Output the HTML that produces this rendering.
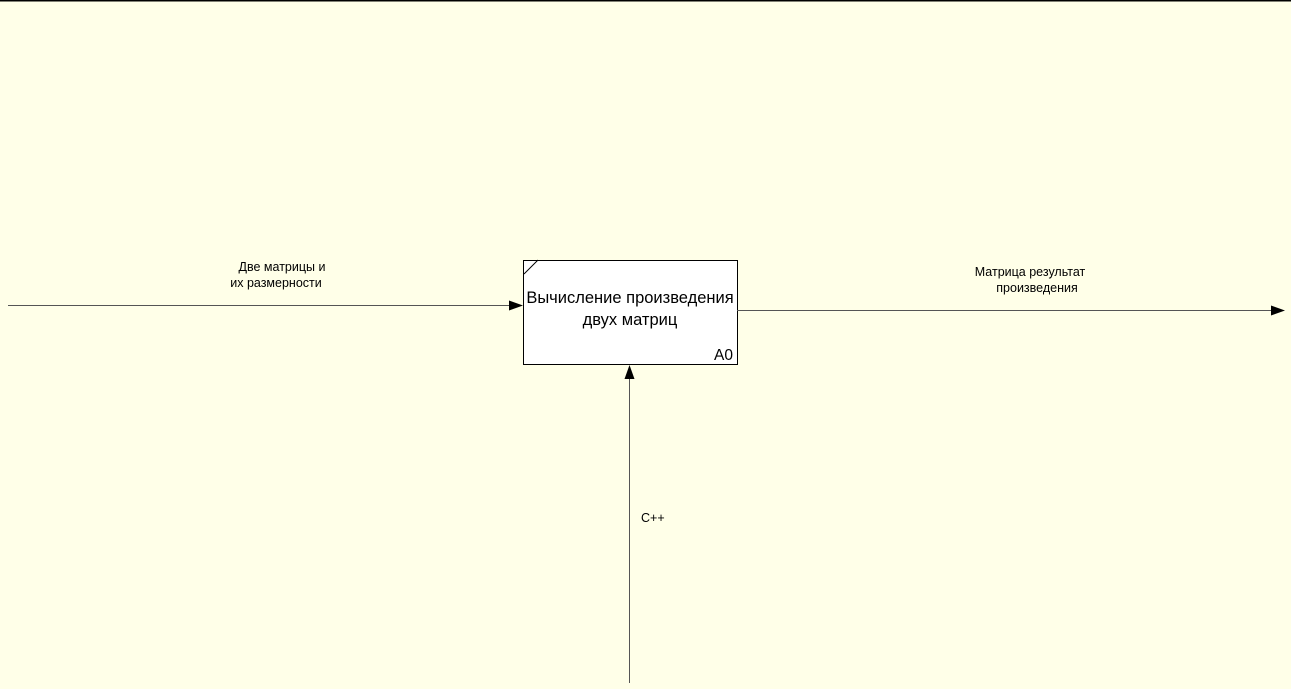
<!DOCTYPE html>
<html><head><meta charset="utf-8"><style>
html,body{margin:0;padding:0;background:#ffffe8;}
svg{display:block;}
text{font-family:"Liberation Sans",Arial,sans-serif;fill:#000;}
</style></head><body>
<svg width="1291" height="689" viewBox="0 0 1291 689" xmlns="http://www.w3.org/2000/svg">
<rect width="1291" height="689" fill="#ffffe8"/>
<rect x="0" y="0" width="1291" height="1.5" fill="#000"/>
<rect x="523.5" y="260.5" width="214" height="104" fill="#fff" stroke="#000" stroke-width="1"/>
<line x1="524" y1="274" x2="538" y2="260" stroke="#000" stroke-width="1"/>
<text x="630" y="303" font-size="16.5" text-anchor="middle">Вычисление произведения</text>
<text x="630" y="325" font-size="16.5" text-anchor="middle">двух матриц</text>
<text x="733" y="360" font-size="15.5" text-anchor="end">A0</text>
<line x1="8" y1="305.5" x2="512" y2="305.5" stroke="#555" stroke-width="1"/>
<polygon points="523,305.5 509,300.5 509,310.5" fill="#000"/>
<text x="282" y="271" font-size="12.5" text-anchor="middle">Две матрицы и</text>
<text x="276" y="287" font-size="12.5" text-anchor="middle">их размерности</text>
<line x1="737" y1="310.5" x2="1273" y2="310.5" stroke="#555" stroke-width="1"/>
<polygon points="1285,310.5 1271,305.5 1271,315.5" fill="#000"/>
<text x="1030" y="276" font-size="12.5" text-anchor="middle">Матрица результат</text>
<text x="1037" y="292" font-size="12.5" text-anchor="middle">произведения</text>
<line x1="629.5" y1="376" x2="629.5" y2="683" stroke="#555" stroke-width="1"/>
<polygon points="629.5,365 624.5,379 634.5,379" fill="#000"/>
<text x="641" y="522" font-size="12.5">C++</text>
</svg>
</body></html>
